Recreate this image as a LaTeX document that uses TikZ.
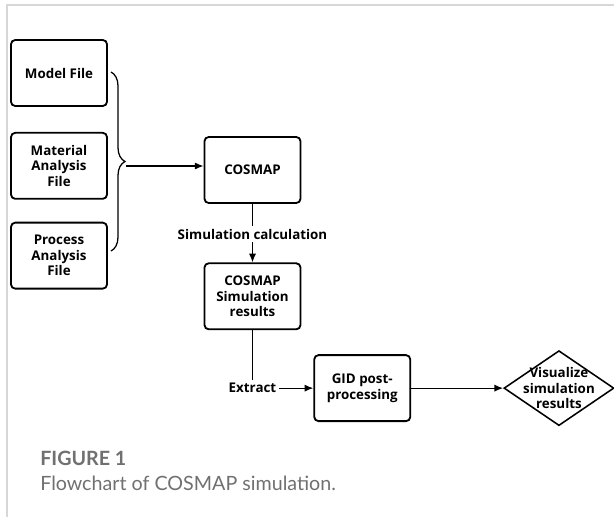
\documentclass[tikz,border=0pt]{standalone}
\usepackage{fontspec}
\newfontfamily\boxfont{Open Sans}
\newfontfamily\capfont{Lato}
\usetikzlibrary{arrows.meta, positioning, shapes.geometric, decorations.pathreplacing}
\definecolor{capgray}{RGB}{112,112,112}
\definecolor{framegray}{RGB}{215,215,215}

\begin{document}
\begin{tikzpicture}[
            fbox/.style={rectangle, draw=black, line width=1.3pt, rounded corners=3pt,
                      minimum width=2.4cm, minimum height=1.65cm, align=center,
                      inner sep=2pt, font=\boxfont\bfseries\fontsize{9.5}{11}\selectfont},
            dmd/.style={diamond, draw=black, line width=1.1pt,
                      minimum width=2.75cm, minimum height=1.875cm, inner sep=0pt},
            lbl/.style={inner sep=2pt, align=center,
                      font=\boxfont\bfseries\fontsize{9.5}{11}\selectfont},
            ln/.style={line width=0.9pt, black},
            arr/.style={-{Latex[length=2.2mm, width=1.8mm]}, line width=0.9pt, black},
            node distance=0.6cm]
          \useasboundingbox (0,0) rectangle (15.35,-12.925);
          % page frame
          \draw[framegray, line width=0.8pt] (0.175,-12.925) -- (0.175,-0.125) -- (15.35,-0.125);
          % input files
          \node[fbox] (model) at (1.475,-1.825) {Model File};
          \node[fbox, below=0.625cm of model] (material) {Material\\ Analysis\\ File};
          \node[fbox, below=0.55cm of material] (process) {Process\\ Analysis\\ File};
          \coordinate (bracetop) at (2.775,-1.8);
          \coordinate (bracebot) at (2.775,-6.275);
          \coordinate (bracetip) at (3.15,-4.15);
          \draw[ln, decorate, decoration={brace, amplitude=0.35cm}] (bracetop) -- (bracebot);
          % simulation chain
          \node[fbox] (cosmap) at (6.3125,-4.25) {COSMAP};
          \node[lbl, below=0.55cm of cosmap] (simcalc) {Simulation calculation};
          \node[fbox, below=0.5cm of simcalc] (results) {COSMAP\\ Simulation\\ results};
          \node[lbl, below=1.25cm of results] (extract) {Extract};
          \node[fbox, right=0.85cm of extract] (gid) {GID post-\\ processing};
          \node[dmd, right=2.3cm of gid] (visual) {};
          \node[lbl] (vistext) at (visual) {Visualize\\ simulation\\ results};
          \draw[arr] (bracetip) -- (bracetip -| cosmap.west);
          \draw[ln] (cosmap) -- (simcalc);
          \draw[arr] (simcalc) -- (results);
          \draw[ln] (results) -- (extract);
          \draw[arr] (extract) -- (gid);
          \draw[arr] (gid) -- (visual);
          % caption
          \node[anchor=base west, inner sep=0pt, text=capgray,
                font=\capfont\bfseries\fontsize{14}{16}\selectfont] (figlabel) at (1.0,-11.625) {FIGURE 1};
          \node[anchor=base west, inner sep=0pt, text=capgray,
                font=\capfont\fontsize{14}{16}\selectfont] (figtext) at (1.0,-12.25) {Flowchart of COSMAP simulation.};
        \end{tikzpicture}
\end{document}
